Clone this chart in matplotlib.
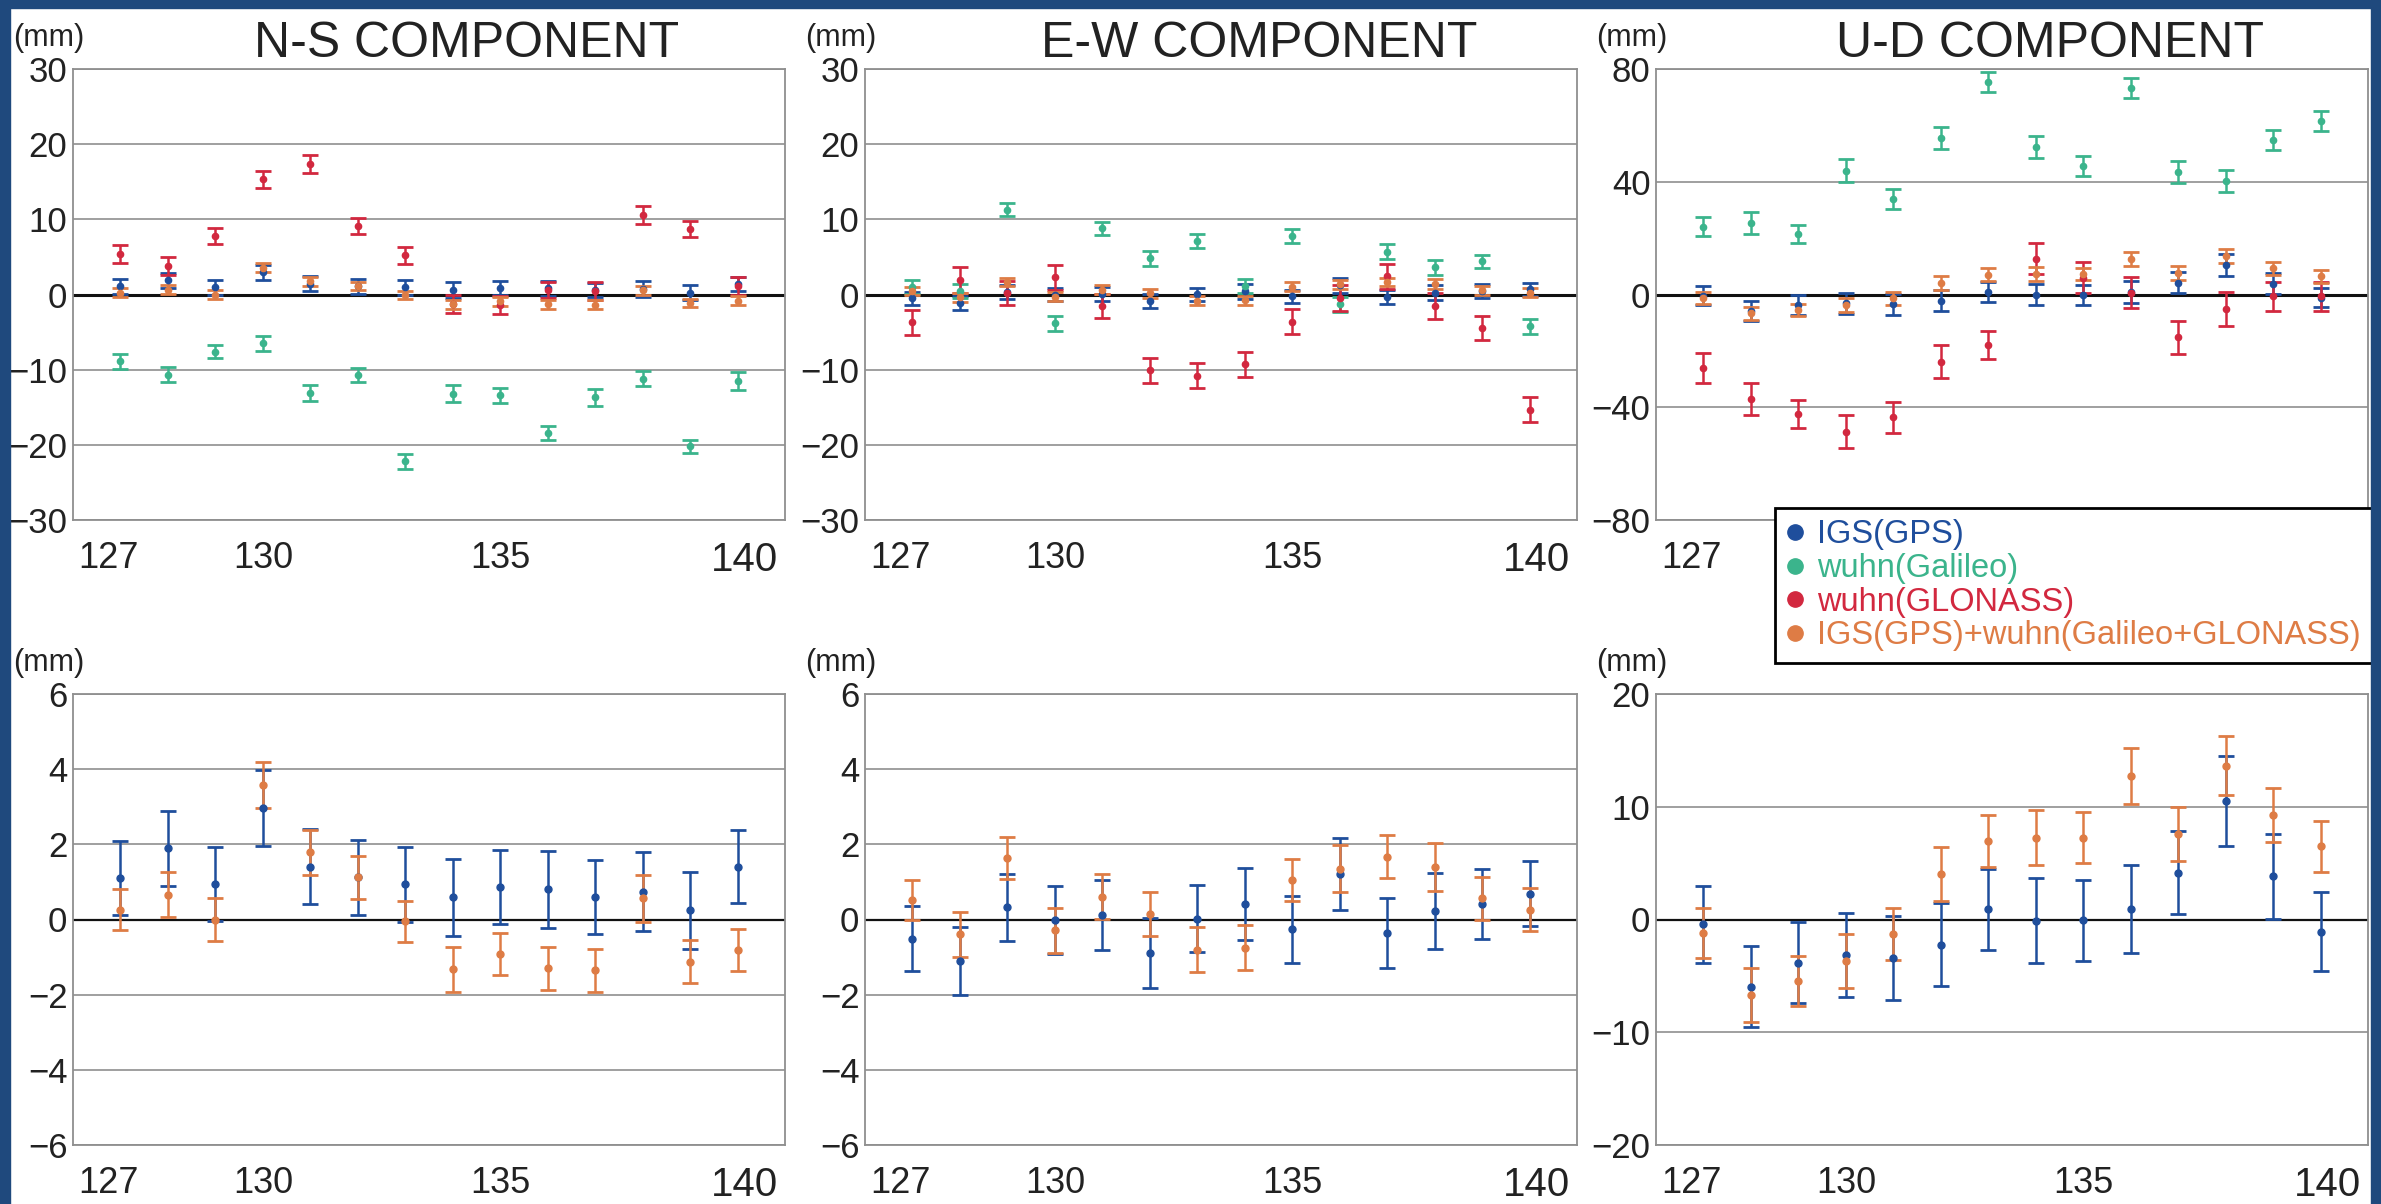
import matplotlib
matplotlib.use('Agg')
import matplotlib.pyplot as plt
import matplotlib.transforms as mtransforms
from matplotlib.lines import Line2D
from matplotlib.patches import Rectangle

plt.rcParams['font.family'] = ['Liberation Sans Narrow', 'Liberation Sans', 'DejaVu Sans']

# Data (day number on x, mm on y)
days = [127, 128, 129, 130, 131, 132, 133, 134, 135, 136, 137, 138, 139, 140]

ns_gps = [1.1, 1.9, 0.94, 2.97, 1.4, 1.12, 0.94, 0.59, 0.87, 0.8, 0.59, 0.74, 0.24, 1.41]
ns_gps_err = [0.98, 1.0, 0.98, 1.01, 1.0, 1.0, 1.0, 1.02, 0.99, 1.03, 0.98, 1.05, 1.02, 0.98]
ns_gal = [-8.9, -10.7, -7.6, -6.5, -13.1, -10.7, -22.2, -13.2, -13.4, -18.4, -13.7, -11.2, -20.2, -11.5]
ns_gal_err = [1.0, 1.0, 0.9, 1.0, 1.1, 0.9, 1.0, 1.1, 1.0, 0.9, 1.1, 1.0, 0.9, 1.2]
ns_glo = [5.4, 3.8, 7.8, 15.3, 17.4, 9.1, 5.2, -1.2, -1.4, 0.6, 0.5, 10.6, 8.7, 1.1]
ns_glo_err = [1.2, 1.2, 1.1, 1.1, 1.2, 1.1, 1.1, 1.2, 1.2, 1.1, 1.2, 1.2, 1.1, 1.2]
ns_comb = [0.26, 0.66, 0.0, 3.58, 1.79, 1.12, -0.05, -1.33, -0.92, -1.3, -1.35, 0.56, -1.12, -0.8]
ns_comb_err = [0.54, 0.6, 0.56, 0.6, 0.6, 0.58, 0.54, 0.59, 0.56, 0.58, 0.57, 0.62, 0.57, 0.56]

ew_gps = [-0.51, -1.1, 0.33, -0.02, 0.12, -0.89, 0.02, 0.41, -0.26, 1.21, -0.36, 0.23, 0.41, 0.69]
ew_gps_err = [0.86, 0.91, 0.89, 0.91, 0.94, 0.94, 0.89, 0.95, 0.89, 0.97, 0.93, 1.01, 0.94, 0.87]
ew_gal = [1.0, 0.5, 11.3, -3.8, 8.8, 4.8, 7.1, 1.1, 7.8, -1.3, 5.7, 3.6, 4.4, -4.2]
ew_gal_err = [0.9, 0.9, 0.9, 1.0, 0.9, 1.0, 0.9, 0.9, 0.9, 1.0, 1.0, 1.0, 0.9, 1.0]
ew_glo = [-3.7, 1.9, 0.2, 2.3, -1.5, -10.1, -10.8, -9.3, -3.6, -0.5, 2.4, -1.5, -4.5, -15.3]
ew_glo_err = [1.65, 1.7, 1.6, 1.65, 1.6, 1.7, 1.65, 1.65, 1.7, 1.75, 1.65, 1.7, 1.6, 1.65]
ew_comb = [0.51, -0.39, 1.64, -0.29, 0.61, 0.15, -0.8, -0.75, 1.05, 1.35, 1.67, 1.4, 0.56, 0.26]
ew_comb_err = [0.53, 0.6, 0.56, 0.6, 0.59, 0.59, 0.59, 0.6, 0.55, 0.62, 0.57, 0.63, 0.58, 0.57]

ud_gps = [-0.44, -5.97, -3.82, -3.14, -3.4, -2.22, 0.92, -0.1, -0.07, 0.92, 4.16, 10.5, 3.82, -1.09]
ud_gps_err = [3.4, 3.6, 3.6, 3.7, 3.7, 3.7, 3.6, 3.8, 3.6, 3.9, 3.7, 4.0, 3.8, 3.5]
ud_gal = [24.1, 25.2, 21.5, 43.9, 34.0, 55.5, 75.5, 52.4, 45.6, 73.2, 43.5, 40.1, 54.7, 61.5]
ud_gal_err = [3.5, 3.9, 3.2, 4.1, 3.6, 3.9, 3.6, 3.8, 3.7, 3.6, 3.9, 3.9, 3.6, 3.5]
ud_glo = [-26.1, -37.0, -42.4, -48.7, -43.5, -23.8, -18.0, 12.7, 6.0, 0.7, -15.2, -5.2, -0.7, -0.7]
ud_glo_err = [5.4, 5.6, 5.0, 5.8, 5.5, 5.8, 5.0, 5.6, 5.4, 5.6, 5.8, 6.0, 5.3, 5.0]
ud_comb = [-1.19, -6.66, -5.46, -3.69, -1.3, 4.03, 6.93, 7.27, 7.27, 12.73, 7.6, 13.65, 9.3, 6.48]
ud_comb_err = [2.2, 2.4, 2.2, 2.4, 2.3, 2.4, 2.3, 2.4, 2.3, 2.45, 2.4, 2.6, 2.4, 2.25]

titles = ['N-S COMPONENT', 'E-W COMPONENT', 'U-D COMPONENT']
top_yticks = [[-30, -20, -10, 0, 10, 20, 30], [-30, -20, -10, 0, 10, 20, 30], [-80, -40, 0, 40, 80]]
bot_yticks = [[-6, -4, -2, 0, 2, 4, 6], [-6, -4, -2, 0, 2, 4, 6], [-20, -10, 0, 10, 20]]
xtick_vals = [127, 130, 135, 140]
labels = ['IGS(GPS)', 'wuhn(Galileo)', 'wuhn(GLONASS)', 'IGS(GPS)+wuhn(Galileo+GLONASS)']

c_gps = '#1f4e9c'
c_gal = '#3bb48c'
c_glo = '#d2283f'
c_comb = '#de7c45'
grid_c = '#8f8f8f'
border_c = '#1f497d'
txt_c = '#222222'

W, H = 2381, 1204
fig = plt.figure(figsize=(W / 100, H / 100), dpi=100)

lefts = [73, 865, 1656]
aw, ah = 712, 451


def make_axes(left, top):
    return fig.add_axes([left / W, 1 - (top + ah) / H, aw / W, ah / H])


def style(ax, yticks, zero_lw):
    ax.set_xlim(126, 141)
    ax.set_ylim(yticks[0], yticks[-1])
    ax.set_yticks(yticks)
    ax.set_xticks(xtick_vals)
    ax.set_xticks([130, 135, 140], minor=True)
    ax.tick_params(which='both', length=0)
    ax.tick_params(axis='y', labelsize=25, pad=4, labelcolor=txt_c)
    ax.tick_params(axis='x', labelsize=26, pad=15, labelcolor=txt_c)
    ax.yaxis.grid(True, color=grid_c, lw=1.2)
    ax.xaxis.grid(True, which='minor', color=grid_c, lw=1.0)
    ax.set_axisbelow(True)
    ax.axhline(0, color='#111111', lw=zero_lw, zorder=1)
    for sp in ax.spines.values():
        sp.set_color(grid_c)
        sp.set_linewidth(1.3)
    tl = ax.get_xticklabels()
    tl[-1].set_fontsize(29)
    tl[0].set_transform(tl[0].get_transform() + mtransforms.ScaledTranslation(-0.12, 0, fig.dpi_scale_trans))
    tl[-1].set_transform(tl[-1].get_transform() + mtransforms.ScaledTranslation(0.07, 0, fig.dpi_scale_trans))
    ax.text(-0.084, 1.051, '(mm)', transform=ax.transAxes, fontsize=22, color=txt_c,
            family=['Liberation Sans', 'DejaVu Sans'], ha='left', va='baseline')
    return tl


def draw(ax, y, e, color, ms=5, cap=6):
    ax.errorbar(days, y, yerr=e, fmt='o', color=color, ms=ms, capsize=cap,
                capthick=2, elinewidth=1.8, zorder=3)


top_series = [
    [(ns_gps, ns_gps_err), (ns_gal, ns_gal_err), (ns_glo, ns_glo_err), (ns_comb, ns_comb_err)],
    [(ew_gps, ew_gps_err), (ew_gal, ew_gal_err), (ew_glo, ew_glo_err), (ew_comb, ew_comb_err)],
    [(ud_gps, ud_gps_err), (ud_gal, ud_gal_err), (ud_glo, ud_glo_err), (ud_comb, ud_comb_err)],
]
colors = [c_gps, c_gal, c_glo, c_comb]

for i in range(3):
    # upper row: all four solutions
    ax = make_axes(lefts[i], 69)
    tl = style(ax, top_yticks[i], 2.2)
    if i == 2:
        # these labels sit under the legend box in the original
        for t in tl[1:]:
            t.set_visible(False)
    for (y, e), c in zip(top_series[i], colors):
        draw(ax, y, e, c, ms=4.5, cap=5.5)
    ax.text(0.553, 1.027, titles[i], transform=ax.transAxes, fontsize=36, color=txt_c,
            family=['Liberation Sans', 'DejaVu Sans'], ha='center', va='baseline')

    # lower row: GPS and combined only
    ax = make_axes(lefts[i], 694)
    style(ax, bot_yticks[i], 1.6)
    (gy, ge), _, _, (cy, ce) = top_series[i]
    draw(ax, gy, ge, c_gps)
    draw(ax, cy, ce, c_comb)

handles = [Line2D([], [], ls='none', marker='o', ms=11, color=c) for c in colors]
leg = fig.legend(handles, labels, loc='upper left', bbox_to_anchor=(1775 / W, 1 - 508 / H),
                 frameon=True, fancybox=False, framealpha=1, edgecolor='black',
                 prop={'family': ['Liberation Sans', 'DejaVu Sans'], 'size': 23.5},
                 handlelength=0.5, handletextpad=0.45, borderpad=0.35, labelspacing=0.08,
                 borderaxespad=0)
leg.get_frame().set_linewidth(2)
for t, c in zip(leg.get_texts(), colors):
    t.set_color(c)

# dark blue frame round the picture
fig.add_artist(Rectangle((0, 0), 10 / W, 1, transform=fig.transFigure, color=border_c, zorder=20))
fig.add_artist(Rectangle((0, 1 - 8 / H), 1, 8 / H, transform=fig.transFigure, color=border_c, zorder=20))
fig.add_artist(Rectangle((1 - 10 / W, 0), 10 / W, 1, transform=fig.transFigure, color=border_c, zorder=20))

fig.savefig('out.png', dpi=100, facecolor='white')
